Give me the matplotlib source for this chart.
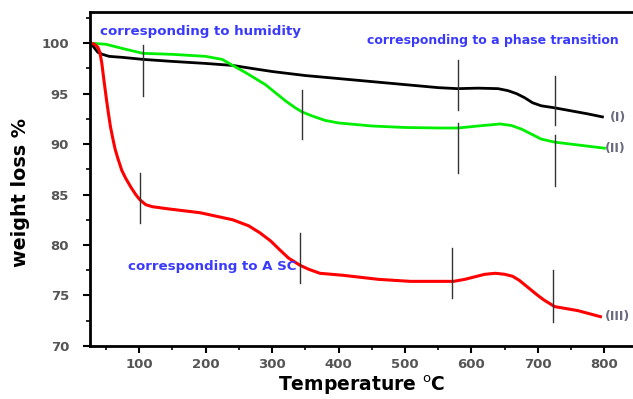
import matplotlib.pyplot as plt
import numpy as np
from matplotlib.ticker import MultipleLocator

# TGA curves: temperature (°C) vs remaining weight (%)
temp_i = [28, 32, 38, 45, 55, 75, 106, 150, 200, 241, 270, 300, 350, 400, 450, 500, 550, 579,
          610, 640, 655, 668, 680, 692, 705, 725, 750, 775, 797]
weight_i = [100.0, 99.6, 99.1, 98.9, 98.7, 98.6, 98.4, 98.2, 98.0, 97.8, 97.5, 97.2, 96.8, 96.5,
            96.2, 95.9, 95.6, 95.5, 95.55, 95.5, 95.3, 95.0, 94.6, 94.1, 93.8, 93.6, 93.3, 93.0, 92.7]

temp_ii = [28, 50, 80, 106, 150, 200, 225, 241, 260, 275, 290, 305, 320, 335, 345, 360, 380,
           400, 450, 500, 550, 580, 610, 643, 660, 675, 690, 705, 725, 750, 775, 800]
weight_ii = [100.0, 99.9, 99.4, 99.0, 98.9, 98.7, 98.4, 97.8, 97.1, 96.5, 95.9, 95.1, 94.3,
             93.6, 93.2, 92.8, 92.35, 92.1, 91.8, 91.65, 91.6, 91.6, 91.8, 92.0, 91.85, 91.5,
             91.0, 90.5, 90.2, 90.0, 89.8, 89.6]

temp_iii = [28, 33, 38, 41, 44, 47, 51, 54, 57, 61, 64, 68, 74, 80, 88, 95, 101, 110, 120, 142,
            192, 241, 265, 282, 298, 312, 325, 342, 355, 372, 407, 460, 508, 573, 590, 605, 620,
            636, 650, 662, 672, 685, 698, 708, 725, 760, 794]
weight_iii = [100.0, 99.9, 99.6, 99.1, 98.0, 96.4, 94.4, 93.0, 91.7, 90.4, 89.5, 88.6, 87.4,
              86.6, 85.7, 85.0, 84.5, 84.0, 83.8, 83.6, 83.2, 82.5, 81.9, 81.2, 80.4, 79.5, 78.7,
              78.0, 77.6, 77.2, 77.0, 76.6, 76.4, 76.4, 76.6, 76.85, 77.1, 77.2, 77.1, 76.9,
              76.5, 75.8, 75.1, 74.6, 73.9, 73.5, 72.9]

# short vertical markers: (temperature, lower, upper)
markers = [(106, 94.8, 99.8), (345, 90.5, 95.4), (101, 82.2, 87.1), (342, 76.2, 81.2),
           (579, 93.4, 98.3), (725, 91.9, 96.8), (580, 87.1, 92.1), (726, 85.9, 90.9),
           (570, 74.8, 79.7), (722, 72.4, 77.5)]

fig = plt.figure(figsize=(6.33, 3.99), dpi=100)
ax = fig.add_axes([0.142, 0.133, 0.858, 0.837])

ax.plot(temp_i, weight_i, color='black', linewidth=2)
ax.plot(temp_ii, weight_ii, color='#00ee00', linewidth=2)
ax.plot(temp_iii, weight_iii, color='#ff0000', linewidth=2.2)

for t, lo, hi in markers:
    ax.plot([t, t], [lo, hi], color='#333333', linewidth=1)

label_color = '#6a6a80'
ax.text(808, 92.6, '(I)', color=label_color, fontsize=9, fontweight='bold', va='center')
ax.text(801, 89.6, '(II)', color=label_color, fontsize=9, fontweight='bold', va='center')
ax.text(801, 72.9, '(III)', color=label_color, fontsize=9, fontweight='bold', va='center')

blue = '#3a3aff'
ax.text(41, 101.2, 'corresponding to humidity', color=blue, fontsize=9.6, fontweight='bold',
        va='center')
ax.text(443, 100.3, 'corresponding to a phase transition', color=blue, fontsize=9.0,
        fontweight='bold', va='center')
ax.text(83, 77.9, 'corresponding to A SC', color=blue, fontsize=9.6, fontweight='bold',
        va='center')

ax.set_xlim(26, 843)
ax.set_ylim(70, 103.1)
ax.xaxis.set_major_locator(MultipleLocator(100))
ax.xaxis.set_minor_locator(MultipleLocator(50))
ax.yaxis.set_major_locator(MultipleLocator(5))
ax.yaxis.set_minor_locator(MultipleLocator(2.5))
ax.tick_params(axis='both', which='major', direction='out', length=5, width=1.5,
               labelsize=9.5, labelcolor='#555555')
ax.tick_params(axis='y', which='major', pad=10)
ax.tick_params(axis='both', which='minor', direction='out', length=3, width=1.2)
for lab in ax.get_xticklabels() + ax.get_yticklabels():
    lab.set_fontweight('bold')

for side in ['left', 'bottom', 'top']:
    ax.spines[side].set_linewidth(2)
ax.spines['right'].set_visible(False)

ax.set_xlabel('Temperature $^{\\mathrm{o}}$C', fontsize=13.5, fontweight='bold', labelpad=2)
ax.set_ylabel('weight loss %', fontsize=13.8, fontweight='bold')
ax.yaxis.set_label_coords(-0.11, 0.46)

fig.savefig('out.png', dpi=100)
